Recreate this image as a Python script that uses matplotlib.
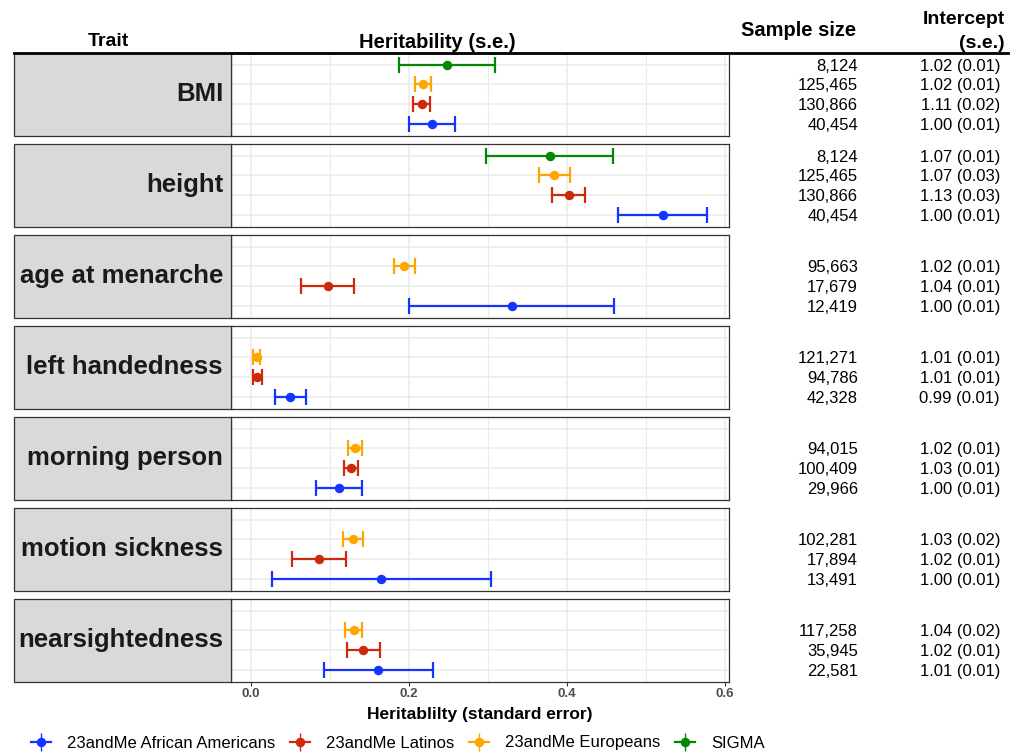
"""Heritability by trait and cohort, with sample size and intercept columns."""
import matplotlib

matplotlib.use("Agg")
import matplotlib.pyplot as plt
import numpy as np
from matplotlib.lines import Line2D
from matplotlib.patches import Rectangle
from matplotlib.transforms import blended_transform_factory

plt.rcParams["font.family"] = ["Liberation Sans", "DejaVu Sans"]

traits = ["BMI", "height", "age at menarche", "left handedness",
          "morning person", "motion sickness", "nearsightedness"]
groups = ["23andMe African Americans", "23andMe Latinos",
          "23andMe Europeans", "SIGMA"]
colors = ["#1434FF", "#CC2A0A", "#FFA500", "#008800"]

nan = np.nan
h2_aa = [0.229, 0.521, 0.330, 0.050, 0.111, 0.165, 0.161]
se_aa = [0.029, 0.056, 0.130, 0.020, 0.029, 0.139, 0.069]
h2_lat = [0.216, 0.402, 0.097, 0.008, 0.127, 0.086, 0.142]
se_lat = [0.011, 0.021, 0.034, 0.006, 0.0087, 0.034, 0.021]
h2_eur = [0.218, 0.384, 0.194, 0.007, 0.132, 0.129, 0.130]
se_eur = [0.010, 0.020, 0.013, 0.005, 0.009, 0.013, 0.011]
h2_sigma = [0.248, 0.378, nan, nan, nan, nan, nan]
se_sigma = [0.061, 0.080, nan, nan, nan, nan, nan]

n_aa = ["40,454", "40,454", "12,419", "42,328", "29,966", "13,491", "22,581"]
n_lat = ["130,866", "130,866", "17,679", "94,786", "100,409", "17,894", "35,945"]
n_eur = ["125,465", "125,465", "95,663", "121,271", "94,015", "102,281", "117,258"]
n_sigma = ["8,124", "8,124", None, None, None, None, None]

int_aa = ["1.00 (0.01)", "1.00 (0.01)", "1.00 (0.01)", "0.99 (0.01)",
          "1.00 (0.01)", "1.00 (0.01)", "1.01 (0.01)"]
int_lat = ["1.11 (0.02)", "1.13 (0.03)", "1.04 (0.01)", "1.01 (0.01)",
           "1.03 (0.01)", "1.02 (0.01)", "1.02 (0.01)"]
int_eur = ["1.02 (0.01)", "1.07 (0.03)", "1.02 (0.01)", "1.01 (0.01)",
           "1.02 (0.01)", "1.03 (0.02)", "1.04 (0.02)"]
int_sigma = ["1.02 (0.01)", "1.07 (0.01)", None, None, None, None, None]

h2 = [h2_aa, h2_lat, h2_eur, h2_sigma]
se = [se_aa, se_lat, se_eur, se_sigma]
nsize = [n_aa, n_lat, n_eur, n_sigma]
icpt = [int_aa, int_lat, int_eur, int_sigma]

W, H = 1021, 753
fig = plt.figure(figsize=(W / 100, H / 100), dpi=100)


def fx(x):
    return x / W


def fy(y):
    return 1 - y / H


panel_left, panel_right = 231, 729
strip_left = 14
panel_h = 82.5
step = 91.0
top0 = 53

for i, trait in enumerate(traits):
    top = top0 + i * step
    ax = fig.add_axes([fx(panel_left), fy(top + panel_h),
                       fx(panel_right - panel_left), panel_h / H])
    ax.set_xlim(-0.0253, 0.605)
    ax.set_ylim(0.4, 4.6)
    ax.set_xticks([0.0, 0.2, 0.4, 0.6])
    ax.set_xticks([0.1, 0.3, 0.5], minor=True)
    ax.set_yticks([1, 2, 3, 4])
    ax.grid(which="major", color="#EBEBEB", lw=1.1)
    ax.grid(which="minor", axis="x", color="#EBEBEB", lw=0.8)
    ax.set_axisbelow(True)
    for sp in ax.spines.values():
        sp.set_color("#333333")
        sp.set_linewidth(0.9)
    ax.tick_params(axis="y", left=False, labelleft=False)
    ax.tick_params(axis="x", which="minor", bottom=False)
    if i < len(traits) - 1:
        ax.tick_params(axis="x", bottom=False, labelbottom=False)
    else:
        ax.tick_params(axis="x", length=3, color="#333333", labelcolor="#4D4D4D",
                       labelsize=9.5, pad=1.5)
        for lab in ax.get_xticklabels():
            lab.set_fontweight("bold")
        ax.set_xlabel("Heritablilty (standard error)", fontsize=12.5,
                      fontweight="bold", labelpad=5)

    trans = blended_transform_factory(fig.transFigure, ax.transData)
    for g in range(4):
        val = h2[g][i]
        if np.isnan(val):
            continue
        ax.errorbar(val, g + 1, xerr=se[g][i], fmt="o", color=colors[g],
                    ms=5.8, elinewidth=1.6, capsize=5.5, capthick=1.6)
        ax.text(fx(858), g + 0.93, nsize[g][i], transform=trans, ha="right",
                va="center", fontsize=12)
        ax.text(fx(1000), g + 0.93, icpt[g][i], transform=trans, ha="right",
                va="center", fontsize=12)

    fig.patches.append(Rectangle((fx(strip_left), fy(top + panel_h)),
                                 fx(panel_left - strip_left), panel_h / H,
                                 transform=fig.transFigure, facecolor="#D9D9D9",
                                 edgecolor="#333333", lw=0.9, zorder=0))
    fig.text(fx(223), fy(top + panel_h / 2), trait, ha="right", va="center",
             fontsize=18.5, fontweight="bold", color="#1A1A1A")

# column headers
fig.text(fx(108), fy(42), "Trait", ha="center", va="center",
         fontsize=14, fontweight="bold")
fig.text(fx(437), fy(42), "Heritability (s.e.)", ha="center", va="center",
         fontsize=14.5, fontweight="bold")
fig.text(fx(799), fy(30), "Sample size", ha="center", va="center",
         fontsize=14.5, fontweight="bold")
fig.text(fx(1005), fy(19), "Intercept", ha="right", va="center",
         fontsize=14, fontweight="bold")
fig.text(fx(1005), fy(43), "(s.e.)", ha="right", va="center",
         fontsize=14, fontweight="bold")
fig.lines.append(Line2D([fx(14), fx(1008)], [fy(53), fy(53)],
                        transform=fig.transFigure, color="black", lw=2))

# legend
handles = []
for c in colors:
    handles.append((Line2D([], [], color=c, lw=1.6),
                    Line2D([], [], color=c, marker="|", ms=13, mew=1.0, ls="none"),
                    Line2D([], [], color=c, marker="o", ms=5.8, ls="none")))
fig.legend(handles, groups, loc="center", bbox_to_anchor=(fx(398), fy(743)),
           ncol=4, frameon=False, fontsize=12, handlelength=1.2,
           handletextpad=0.95, columnspacing=0.9)

fig.savefig("out.png", dpi=100)
